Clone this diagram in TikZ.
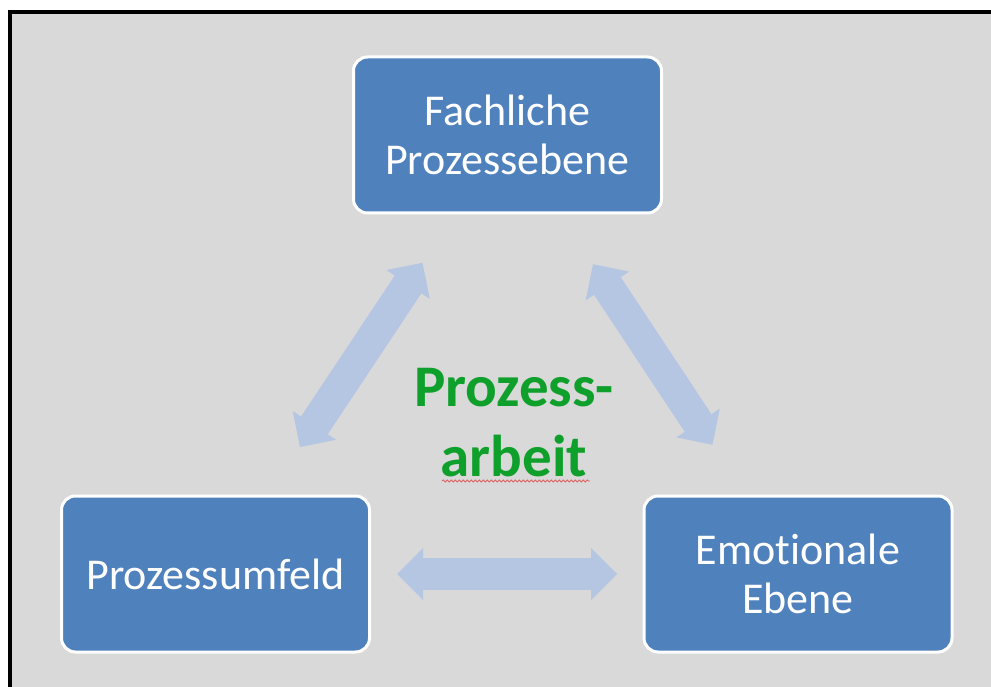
\documentclass[tikz,border=0pt]{standalone}
\usepackage{fontspec}
\setmainfont{Carlito}[Ligatures=NoCommon]
\usetikzlibrary{arrows.meta,decorations.pathmorphing}
\definecolor{hgrau}{HTML}{D9D9D9}
\definecolor{kblau}{HTML}{4F81BD}
\definecolor{pblau}{HTML}{B4C6E2}
\definecolor{pgruen}{HTML}{0FA02C}
\definecolor{wellrot}{HTML}{E06060}

\begin{document}
\begin{tikzpicture}[x=1pt,y=-1pt,node distance=582.5pt,auto,
    ebene/.style={draw=white, line width=3pt, fill=kblau, rounded corners=14pt,
        minimum width=308pt, minimum height=156pt, text=white, align=center,
        font=\fontsize{44}{48.5}\selectfont},
    pfeil/.style={pblau, line width=32pt,
        {Triangle[length=26pt,width=52pt,line width=0pt]}-{Triangle[length=26pt,width=52pt,line width=0pt]}}]
    \useasboundingbox (0,0) rectangle (991,687);
    % Rahmen und Hintergrund
    \fill[white] (0,0) rectangle (991,687);
    \fill[hgrau] (12,14) rectangle (991,687);
    \fill[black] (8,10) rectangle (991,14);
    \fill[black] (8,10) rectangle (12,687);
    % Ebenen
    \node [ebene] (fach) at (507.5,135) {Fachliche\\Prozessebene};
    \node [ebene] (umfeld) at (215.5,574) {Prozessumfeld};
    \node [ebene] (emo) [right of=umfeld] {Emotionale\\Ebene};
    \node [text=pgruen, align=center, font=\fontsize{59}{70}\selectfont\bfseries] (mitte) at (514,423) {Prozess-\\arbeit};
    % Pfeile
    \draw [pfeil, shorten <=152.5pt, shorten >=153.5pt] (umfeld.center) -- (fach.center);
    \draw [pfeil, shorten <=155pt, shorten >=155pt] (fach.center) -- (emo.center);
    \draw [pfeil, shorten <=181.5pt, shorten >=181pt] (umfeld.center) -- (emo.center);
    % Rechtschreibmarke
    \draw [wellrot, line width=0.8pt, decorate, decoration={snake, amplitude=1pt, segment length=4pt}] (442,481) -- (590,481);
\end{tikzpicture}
\end{document}
